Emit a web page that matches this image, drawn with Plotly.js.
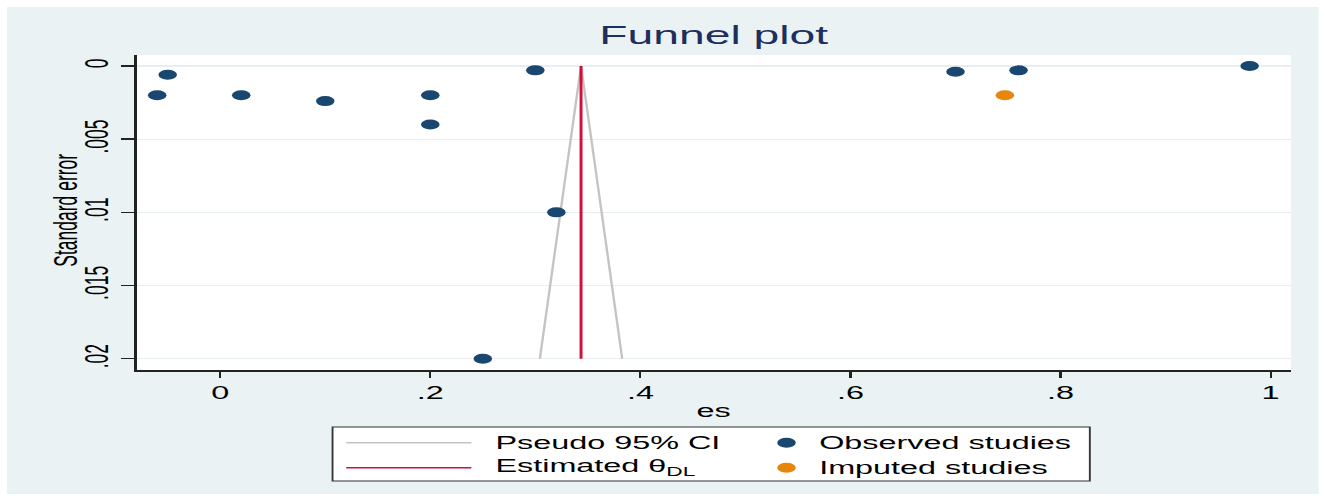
<!DOCTYPE html>
<html>
<head>
<meta charset="utf-8">
<script src="https://cdn.plot.ly/plotly-3.0.1.min.js"></script>
<style>
  html, body { margin: 0; padding: 0; background: #ffffff; width: 1325px; height: 501px; overflow: hidden; }
  #chart { position: absolute; left: 7px; top: 7px; transform-origin: 0 0; }
</style>
</head>
<body>
<div id="chart"></div>
<script>
// Funnel plot: effect sizes (es) against their standard errors
var observedES = [-0.06, -0.05, 0.02, 0.10, 0.20, 0.20, 0.30, 0.32, 0.25, 0.70, 0.76, 0.98];
var observedSE = [0.0020, 0.0006, 0.0020, 0.0024, 0.0020, 0.0040, 0.0003, 0.0100, 0.0200, 0.0004, 0.0003, 0.0000];
var imputedES = [0.747];
var imputedSE = [0.0020];
var thetaDL = 0.3435;
var ciES = [0.3043, 0.3435, 0.3827];
var ciSE = [0.020, 0.000, 0.020];
var thetaLineSE = [0.000, 0.020];
var xTickVals = [0, 0.2, 0.4, 0.6, 0.8, 1];
var xTickText = ['0', '.2', '.4', '.6', '.8', '1'];
var yTickVals = [0, 0.005, 0.01, 0.015, 0.02];
var yTickText = ['0', '.005', '.01', '.015', '.02'];
var legendLabels = ['Pseudo 95% CI', 'Estimated θ<sub>DL</sub>', 'Observed studies', 'Imputed studies'];

// Graph is laid out at a narrow base width and widened horizontally
var STRETCH = 1.85;
var W = 1311 / STRETCH, H = 487;
var M = { l: 70.27, r: W - 694.05, t: 48, b: 124 };
var plotW = W - M.l - M.r, plotH = H - M.t - M.b;
document.getElementById('chart').style.width = W + 'px';
document.getElementById('chart').style.height = H + 'px';
document.getElementById('chart').style.transform = 'scaleX(' + STRETCH + ')';

function px(x) { return (x - M.l) / plotW; }
function py(y) { return (M.t + plotH - y) / plotH; }

var FONT = 'Liberation Sans, Arial, Helvetica, sans-serif';
var NAVY = '#1a476f', ORANGE = '#e8860c', CRIMSON = '#d0103a', CIGRAY = '#c4c4c4';

var traces = [
  { x: ciES, y: ciSE, type: 'scatter', mode: 'lines', name: 'Pseudo 95% CI',
    line: { color: CIGRAY, width: 1.3 }, showlegend: false, hoverinfo: 'skip' },
  { x: [thetaDL, thetaDL], y: thetaLineSE, type: 'scatter', mode: 'lines', name: 'Estimated θ',
    line: { color: CRIMSON, width: 1.6 }, showlegend: false, hoverinfo: 'skip' },
  { x: observedES, y: observedSE, type: 'scatter', mode: 'markers', name: 'Observed studies',
    marker: { color: NAVY, size: 10, line: { width: 0 } }, showlegend: false },
  { x: imputedES, y: imputedSE, type: 'scatter', mode: 'markers', name: 'Imputed studies',
    marker: { color: ORANGE, size: 10, line: { width: 0 } }, showlegend: false }
];

// Legend drawn as a boxed two-column key below the axis
var boxL = 176.2, boxR = 585.4, boxT = 420, boxB = 474;
var row1 = 435.7, row2 = 460.7;
var lineL = 183.6, lineR = 251.2, text1 = 262.7, mark2 = 421.5, text2 = 436.8;

var shapes = [
  { type: 'rect', xref: 'paper', yref: 'paper', x0: px(boxL), x1: px(boxR), y0: py(boxB), y1: py(boxT),
    line: { color: '#333333', width: 1 }, fillcolor: '#ffffff', layer: 'above' },
  { type: 'line', xref: 'paper', yref: 'paper', x0: px(lineL), x1: px(lineR), y0: py(row1), y1: py(row1),
    line: { color: CIGRAY, width: 1.5 }, layer: 'above' },
  { type: 'line', xref: 'paper', yref: 'paper', x0: px(lineL), x1: px(lineR), y0: py(row2), y1: py(row2),
    line: { color: CRIMSON, width: 1.5 }, layer: 'above' },
  { type: 'circle', xref: 'paper', yref: 'paper', xsizemode: 'pixel', ysizemode: 'pixel',
    xanchor: px(mark2), yanchor: py(row1), x0: -5, x1: 5, y0: -5, y1: 5,
    fillcolor: NAVY, line: { width: 0 }, layer: 'above' },
  { type: 'circle', xref: 'paper', yref: 'paper', xsizemode: 'pixel', ysizemode: 'pixel',
    xanchor: px(mark2), yanchor: py(row2), x0: -5, x1: 5, y0: -5, y1: 5,
    fillcolor: ORANGE, line: { width: 0 }, layer: 'above' }
];

function legendText(txt, x, y) {
  return { text: txt, xref: 'paper', yref: 'paper', x: px(x), y: py(y), xanchor: 'left', yanchor: 'middle',
    showarrow: false, font: { family: FONT, size: 17.5, color: '#000000' } };
}
var annotations = [
  legendText(legendLabels[0], text1, row1),
  legendText(legendLabels[1], text1, row2),
  legendText(legendLabels[2], text2, row1),
  legendText(legendLabels[3], text2, row2),
  // vertical axis title, set close to the tick labels
  { text: 'Standard error', xref: 'paper', yref: 'paper', x: px(31.5), y: 0.5 + 2 / plotH,
    xanchor: 'center', yanchor: 'middle', textangle: -90, showarrow: false,
    font: { family: FONT, size: 17.5, color: '#000000' } }
];

var layout = {
  width: W, height: H,
  margin: M,
  paper_bgcolor: '#eaf2f3',
  plot_bgcolor: '#ffffff',
  showlegend: false,
  font: { family: FONT, size: 17.5, color: '#000000' },
  title: { text: 'Funnel plot', x: 0.5, xref: 'paper', y: 1 - 28 / H, yref: 'container', yanchor: 'middle',
    font: { family: FONT, size: 25, color: '#1c2f5e' } },
  xaxis: {
    range: [-0.0797, 1.0193], tickvals: xTickVals, ticktext: xTickText,
    showline: true, linecolor: '#222222', linewidth: 1.8, mirror: false,
    ticks: 'outside', ticklen: 6, tickwidth: 1.2, tickcolor: '#222222',
    showgrid: false, zeroline: false,
    tickfont: { family: FONT, size: 17.5, color: '#000000' },
    title: { text: 'es', standoff: 3, font: { family: FONT, size: 17.5, color: '#000000' } }
  },
  yaxis: {
    range: [0.02077, -0.00075], tickvals: yTickVals, ticktext: yTickText,
    showline: true, linecolor: '#222222', linewidth: 1.2, mirror: false,
    ticks: 'outside', ticklen: 7, tickwidth: 1.5, tickcolor: '#222222', tickangle: -90,
    showgrid: true, gridcolor: '#e6eef1', gridwidth: 1.2, zeroline: false,
    tickfont: { family: FONT, size: 17.5, color: '#000000' }
  },
  shapes: shapes,
  annotations: annotations
};

Plotly.newPlot('chart', traces, layout, { displayModeBar: false, staticPlot: true });
</script>
</body>
</html>
